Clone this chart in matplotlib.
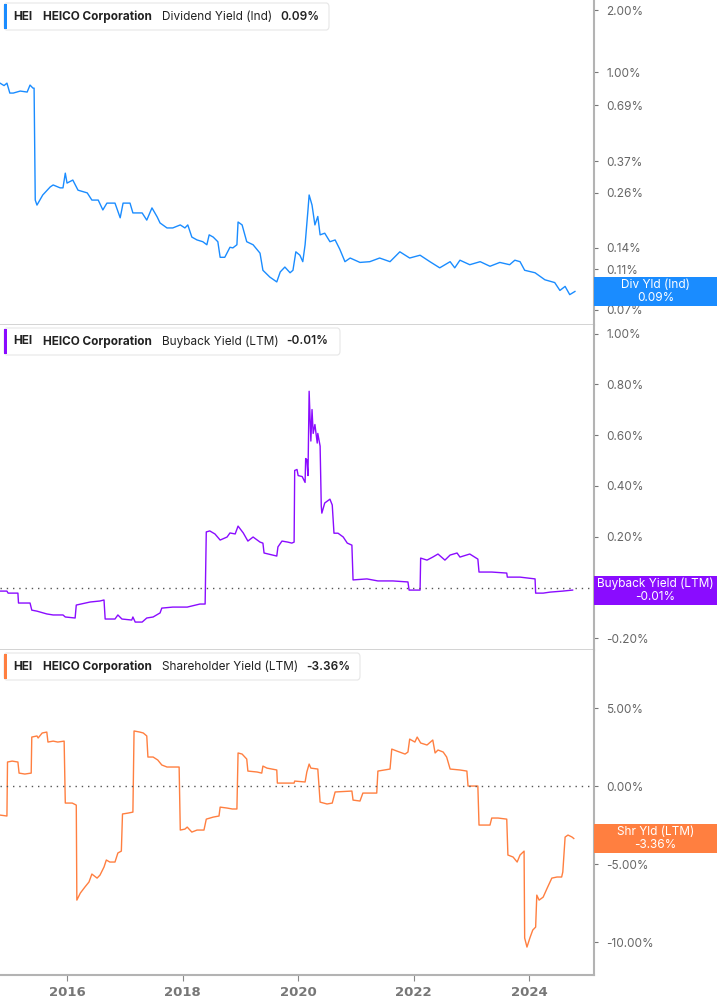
import matplotlib
matplotlib.use("Agg")
import matplotlib.pyplot as plt
from matplotlib.patches import Rectangle, FancyBboxPatch
from matplotlib.ticker import FixedLocator, NullLocator, NullFormatter

# ---------------- data (decimal years, values in %) ----------------
div_dates = [2014.84, 2014.91, 2014.96, 2015.01, 2015.07, 2015.19, 2015.31, 2015.36, 2015.41, 2015.43,
             2015.45, 2015.48, 2015.58, 2015.71, 2015.76, 2015.88, 2015.93, 2015.97, 2016.00, 2016.10,
             2016.19, 2016.35, 2016.43, 2016.54, 2016.62, 2016.69, 2016.83, 2016.92, 2016.97, 2017.09,
             2017.14, 2017.30, 2017.38, 2017.47, 2017.56, 2017.61, 2017.73, 2017.83, 2017.96, 2018.04,
             2018.09, 2018.16, 2018.25, 2018.35, 2018.42, 2018.46, 2018.53, 2018.61, 2018.65, 2018.73,
             2018.82, 2018.87, 2018.94, 2018.96, 2019.03, 2019.11, 2019.22, 2019.34, 2019.39, 2019.51,
             2019.63, 2019.69, 2019.77, 2019.86, 2019.91, 2019.96, 2020.03, 2020.08, 2020.12, 2020.17,
             2020.19, 2020.24, 2020.29, 2020.34, 2020.38, 2020.46, 2020.55, 2020.64, 2020.72, 2020.81,
             2020.90, 2021.07, 2021.24, 2021.41, 2021.59, 2021.76, 2021.93, 2022.11, 2022.28, 2022.45,
             2022.63, 2022.71, 2022.80, 2022.97, 2023.15, 2023.32, 2023.49, 2023.66, 2023.75, 2023.84,
             2023.92, 2024.10, 2024.27, 2024.44, 2024.53, 2024.62, 2024.70, 2024.79]
div_values = [0.884, 0.86, 0.884, 0.791, 0.791, 0.809, 0.80, 0.865, 0.836, 0.836,
              0.239, 0.226, 0.253, 0.277, 0.283, 0.274, 0.274, 0.323, 0.289, 0.299,
              0.267, 0.259, 0.239, 0.239, 0.214, 0.231, 0.231, 0.196, 0.231, 0.231,
              0.207, 0.207, 0.191, 0.219, 0.198, 0.185, 0.175, 0.175, 0.181, 0.175,
              0.181, 0.158, 0.153, 0.150, 0.145, 0.162, 0.158, 0.150, 0.126, 0.126,
              0.141, 0.140, 0.145, 0.187, 0.181, 0.150, 0.145, 0.132, 0.109, 0.101,
              0.0957, 0.107, 0.113, 0.106, 0.109, 0.134, 0.129, 0.120, 0.145, 0.214,
              0.253, 0.226, 0.181, 0.199, 0.162, 0.165, 0.150, 0.153, 0.138, 0.120,
              0.125, 0.119, 0.120, 0.125, 0.120, 0.134, 0.125, 0.129, 0.120, 0.112,
              0.120, 0.112, 0.122, 0.116, 0.120, 0.114, 0.119, 0.116, 0.122, 0.120,
              0.109, 0.106, 0.098, 0.095, 0.087, 0.091, 0.083, 0.086]

bb_dates = [2014.84, 2014.96, 2014.98, 2015.15, 2015.16, 2015.36, 2015.39, 2015.48, 2015.65, 2015.76,
            2015.93, 2015.97, 2016.14, 2016.16, 2016.40, 2016.57, 2016.64, 2016.66, 2016.83, 2016.88,
            2016.95, 2017.12, 2017.14, 2017.18, 2017.30, 2017.38, 2017.49, 2017.61, 2017.64, 2017.83,
            2018.08, 2018.30, 2018.39, 2018.41, 2018.47, 2018.56, 2018.65, 2018.77, 2018.82, 2018.91,
            2018.96, 2019.05, 2019.13, 2019.22, 2019.34, 2019.39, 2019.41, 2019.63, 2019.65, 2019.72,
            2019.82, 2019.89, 2019.93, 2019.94, 2019.98, 2020.00, 2020.07, 2020.12, 2020.13, 2020.15,
            2020.17, 2020.19, 2020.22, 2020.24, 2020.26, 2020.29, 2020.33, 2020.34, 2020.38, 2020.40,
            2020.41, 2020.46, 2020.55, 2020.59, 2020.62, 2020.69, 2020.78, 2020.85, 2020.93, 2020.95,
            2021.19, 2021.38, 2021.64, 2021.90, 2021.92, 2022.11, 2022.12, 2022.23, 2022.33, 2022.42,
            2022.54, 2022.63, 2022.75, 2022.80, 2022.97, 2023.11, 2023.13, 2023.35, 2023.61, 2023.62,
            2023.84, 2024.10, 2024.11, 2024.24, 2024.36, 2024.58, 2024.75]
bb_values = [-0.014, -0.014, -0.022, -0.022, -0.061, -0.061, -0.089, -0.093, -0.104, -0.108,
             -0.108, -0.116, -0.120, -0.069, -0.057, -0.053, -0.049, -0.124, -0.124, -0.108,
             -0.124, -0.128, -0.116, -0.136, -0.136, -0.120, -0.116, -0.100, -0.081, -0.077,
             -0.077, -0.065, -0.065, 0.219, 0.223, 0.211, 0.187, 0.199, 0.215, 0.211,
             0.242, 0.215, 0.183, 0.199, 0.179, 0.175, 0.136, 0.124, 0.160, 0.183,
             0.179, 0.175, 0.179, 0.461, 0.465, 0.441, 0.437, 0.414, 0.508, 0.504,
             0.441, 0.773, 0.577, 0.701, 0.607, 0.642, 0.569, 0.607, 0.557, 0.321,
             0.293, 0.333, 0.348, 0.325, 0.214, 0.214, 0.199, 0.175, 0.167, 0.030,
             0.034, 0.026, 0.026, 0.022, -0.010, -0.010, 0.116, 0.108, 0.120, 0.132,
             0.108, 0.128, 0.136, 0.120, 0.132, 0.112, 0.061, 0.061, 0.057, 0.041,
             0.041, 0.034, -0.022, -0.022, -0.018, -0.014, -0.010]

sh_dates = [2014.84, 2014.96, 2014.97, 2015.05, 2015.15, 2015.17, 2015.27, 2015.38, 2015.39, 2015.48,
            2015.50, 2015.57, 2015.65, 2015.67, 2015.76, 2015.84, 2015.95, 2015.97, 2016.09, 2016.16,
            2016.17, 2016.23, 2016.31, 2016.38, 2016.43, 2016.52, 2016.57, 2016.64, 2016.68, 2016.74,
            2016.83, 2016.88, 2016.94, 2016.96, 2017.06, 2017.14, 2017.16, 2017.26, 2017.32, 2017.38,
            2017.40, 2017.49, 2017.57, 2017.64, 2017.73, 2017.94, 2017.96, 2018.04, 2018.08, 2018.16,
            2018.25, 2018.37, 2018.41, 2018.53, 2018.63, 2018.65, 2018.77, 2018.86, 2018.94, 2018.96,
            2019.03, 2019.11, 2019.13, 2019.29, 2019.37, 2019.39, 2019.46, 2019.63, 2019.64, 2019.81,
            2019.93, 2019.94, 2020.12, 2020.15, 2020.19, 2020.22, 2020.34, 2020.38, 2020.50, 2020.59,
            2020.64, 2020.93, 2020.95, 2021.07, 2021.12, 2021.36, 2021.38, 2021.59, 2021.62, 2021.71,
            2021.85, 2021.90, 2021.93, 2022.02, 2022.06, 2022.12, 2022.23, 2022.33, 2022.37, 2022.42,
            2022.51, 2022.57, 2022.63, 2022.80, 2022.92, 2022.94, 2023.11, 2023.13, 2023.32, 2023.35,
            2023.46, 2023.61, 2023.63, 2023.72, 2023.79, 2023.84, 2023.91, 2023.92, 2023.96, 2024.01,
            2024.06, 2024.11, 2024.13, 2024.17, 2024.24, 2024.31, 2024.39, 2024.48, 2024.56, 2024.58,
            2024.62, 2024.67, 2024.74, 2024.77]
sh_values = [-1.86, -1.92, 1.54, 1.60, 1.54, 0.83, 0.77, 0.83, 3.14, 3.21,
             3.08, 3.40, 3.46, 2.82, 2.88, 2.82, 2.88, -1.09, -1.09, -1.22,
             -7.31, -6.86, -6.47, -6.15, -5.64, -5.90, -5.71, -5.19, -4.74, -4.87,
             -4.87, -4.29, -4.17, -1.79, -1.73, -1.67, 3.53, 3.46, 3.40, 3.21,
             1.86, 1.86, 1.67, 1.35, 1.22, 1.22, -2.82, -2.76, -2.63, -2.95,
             -2.82, -2.82, -2.12, -1.99, -1.92, -1.35, -1.41, -1.47, -1.47, 2.12,
             2.05, 1.73, 0.96, 0.90, 0.83, 1.28, 1.15, 1.03, 0.19, 0.19,
             0.19, 0.32, 0.26, 0.90, 1.41, 1.15, 1.09, -1.03, -1.15, -1.09,
             -0.38, -0.32, -0.90, -0.96, -0.45, -0.45, 0.96, 1.09, 2.37, 2.24,
             2.05, 2.18, 3.01, 2.82, 3.14, 2.76, 2.63, 2.95, 2.12, 2.31,
             2.18, 1.86, 1.09, 1.03, 0.96, 0.00, 0.00, -2.50, -2.50, -2.05,
             -2.05, -2.12, -4.42, -4.55, -4.87, -4.42, -4.17, -9.74, -10.32, -9.74,
             -9.23, -9.04, -6.99, -7.31, -7.12, -6.54, -5.90, -5.83, -5.83, -5.51,
             -3.27, -3.14, -3.27, -3.36]

div_ticks = [0.07, 0.11, 0.14, 0.26, 0.37, 0.69, 1.00, 2.00]
bb_ticks = [-0.20, 0.20, 0.40, 0.60, 0.80, 1.00]
sh_ticks = [-10.0, -5.0, 0.0, 5.0]
year_ticks = [2016, 2018, 2020, 2022, 2024]

panels = [
    dict(dates=div_dates, values=div_values, ticks=div_ticks, color="#1a8cff",
         name="Dividend Yield (Ind)", last="0.09%", box="Div Yld (Ind)\n0.09%",
         ylim=(0.0591, 2.24), log=True, zero=False, right=329, valx=280),
    dict(dates=bb_dates, values=bb_values, ticks=bb_ticks, color="#8a0cff",
         name="Buyback Yield (LTM)", last="-0.01%", box="Buyback Yield (LTM)\n-0.01%",
         ylim=(-0.246, 1.034), log=False, zero=True, right=340, valx=286),
    dict(dates=sh_dates, values=sh_values, ticks=sh_ticks, color="#ff7f40",
         name="Shareholder Yield (LTM)", last="-3.36%", box="Shr Yld (LTM)\n-3.36%",
         ylim=(-12.11, 8.72), log=False, zero=True, right=360, valx=306),
]

W, H = 717, 1005
fig = plt.figure(figsize=(W / 100, H / 100), dpi=100)
FONT = ["Inter", "DejaVu Sans"]
GREY = "#666666"
SPINE = "#b3b3b3"
plot_w = 594

def fx(px):
    return px / W

def fy(py):
    return 1 - py / H

for i, p in enumerate(panels):
    top = i * 325
    ax = fig.add_axes([0, fy(top + 325), fx(plot_w), 325 / H])
    ax.plot(p["dates"], p["values"], color=p["color"], lw=1.0, solid_joinstyle="round")
    if p["log"]:
        ax.set_yscale("log")
    ax.set_ylim(*p["ylim"])
    ax.set_xlim(2014.84, 2025.12)
    if p["zero"]:
        ax.axhline(0, color="#555555", lw=1.0, linestyle=(0, (1, 3.5)))
    ax.yaxis.tick_right()
    ax.yaxis.set_major_locator(FixedLocator(p["ticks"]))
    ax.yaxis.set_minor_locator(NullLocator())
    ax.yaxis.set_minor_formatter(NullFormatter())
    ax.set_yticklabels([f"{t:.2f}%" for t in p["ticks"]])
    ax.tick_params(axis="y", which="both", direction="out", length=3, width=0.8,
                   color="#777777", labelcolor=GREY, labelsize=8.5, pad=6)
    for lbl in ax.get_yticklabels():
        lbl.set_fontfamily(FONT)
    for s in ("top", "left"):
        ax.spines[s].set_visible(False)
    ax.spines["right"].set_color(SPINE)
    ax.spines["right"].set_linewidth(1.5)
    ax.spines["bottom"].set_color("#cccccc" if i < 2 else SPINE)
    ax.spines["bottom"].set_linewidth(1.2 if i < 2 else 1.5)
    if i < 2:
        ax.set_xticks([])
    else:
        ax.set_xticks(year_ticks)
        ax.set_xticklabels([str(y) for y in year_ticks])
        ax.tick_params(axis="x", direction="out", length=4, width=0.8, color="#888888",
                       labelcolor="#777777", labelsize=9.5, pad=4)
        for lbl in ax.get_xticklabels():
            lbl.set_fontfamily(["Liberation Sans Narrow", "DejaVu Sans"])
            lbl.set_fontweight("bold")

    # last value box on the right
    last_val = p["values"][-1]
    cy = ax.transData.transform((p["dates"][-1], last_val))[1]
    bh = 29
    fig.patches.append(Rectangle((fx(plot_w), (cy - bh / 2) / H), fx(W - plot_w), bh / H,
                                 transform=fig.transFigure, facecolor=p["color"],
                                 edgecolor="none", zorder=5))
    fig.text(fx((plot_w + W) / 2), cy / H, p["box"], color="white", fontsize=8.5,
             ha="center", va="center", family=FONT, linespacing=1.05, zorder=6)

    # legend box at top left
    lt = top + 3
    fig.patches.append(FancyBboxPatch((fx(4), fy(lt + 27)), fx(p["right"] - 4), 27 / H,
                                      boxstyle="round,pad=0,rounding_size=0.004",
                                      transform=fig.transFigure, facecolor="white",
                                      edgecolor="#e6e6e6", lw=0.8, zorder=7))
    fig.patches.append(Rectangle((fx(4), fy(lt + 26)), fx(3), 25 / H, transform=fig.transFigure,
                                 facecolor=p["color"], edgecolor="none", zorder=8))
    cyl = fy(lt + 13.5)
    fig.text(fx(13), cyl, "HEI", fontsize=8.5, fontweight="bold", color="#222222",
             va="center", family=FONT, zorder=9)
    fig.text(fx(43), cyl, "HEICO Corporation", fontsize=8.5, fontweight="bold", color="#222222",
             va="center", family=FONT, zorder=9)
    fig.text(fx(162), cyl, p["name"], fontsize=8.5, color="#222222",
             va="center", family=FONT, zorder=9)
    fig.text(fx(p["valx"]), cyl, p["last"], fontsize=8.5, fontweight="semibold", color="#222222",
             va="center", family=FONT, zorder=9)

fig.savefig("out.png", dpi=100, facecolor="white")
